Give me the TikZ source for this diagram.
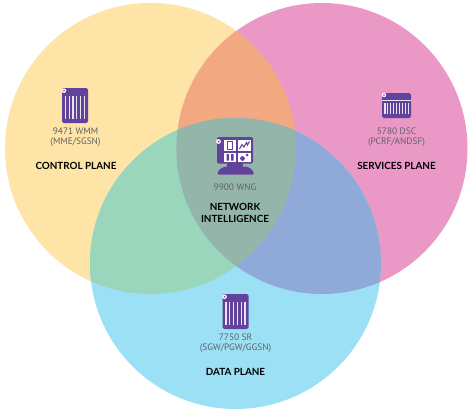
\documentclass[tikz,border=0pt]{standalone}
\usepackage{fontspec}
\setmainfont{Lato}
\newfontfamily\labfont{PT Sans}
\definecolor{cyel}{HTML}{FEE4A6}
\definecolor{cpnk}{HTML}{EA99C6}
\definecolor{cblu}{HTML}{9CE0F5}
\definecolor{cyp}{HTML}{F2A880}
\definecolor{cyb}{HTML}{9AD6BC}
\definecolor{cpb}{HTML}{8FA9D8}
\definecolor{cmid}{HTML}{94B5AA}
\definecolor{cicon}{HTML}{62439B}
\definecolor{ctxt}{HTML}{5E6264}
\tikzset{
  lab/.style={font=\labfont\fontsize{7}{7.5}\selectfont, text=ctxt, align=center, inner sep=0pt},
  plane/.style={font=\fontsize{7.4}{9}\selectfont\bfseries, text=black, align=center, inner sep=0pt},
  pics/tallicon/.style={code={
    \fill[cicon,rounded corners=1.2] (-13,-17.5) rectangle (13,17.5);
    \fill[white] (-11,-14.8) circle (2.3);
    \fill[cicon] (-11,-14.8) circle (0.9);
    \foreach \i in {-9.6,-5.8,-2,1.8,5.6,9.4}
      \fill[white!85!cicon] (\i-.6,-10) rectangle (\i+.6,13.5);
  }},
  pics/wideicon/.style={code={
    \fill[cicon,rounded corners=1.2] (-14.5,-12.5) rectangle (14.5,12.5);
    \fill[white] (-12.5,-10.5) circle (2.2);
    \fill[cicon] (-12.5,-10.5) circle (0.9);
    \fill[white!85!cicon] (-14.5,-5.8) rectangle (14.5,-5.1);
    \foreach \i in {-11.5,-8.6,-5.7,-2.8,0.1,3,5.9,8.8,11.7}
      \fill[white!85!cicon] (\i-.55,-3) rectangle (\i+.55,8);
  }}
}
\begin{document}
\begin{tikzpicture}[x=0.75pt,y=-0.75pt]
\useasboundingbox (0,0) rectangle (474,414);
\fill[white] (0,0) rectangle (474,414);
\def\cyelpath{(150.5,148.5) circle (145.5)}
\def\cpnkpath{(322,148.5) circle (145.5)}
\def\cblupath{(235.5,263.5) circle (145.5)}
\fill[cyel] \cyelpath;
\fill[cpnk] \cpnkpath;
\fill[cblu] \cblupath;
\begin{scope}\clip \cyelpath; \fill[cyp] \cpnkpath; \end{scope}
\begin{scope}\clip \cyelpath; \fill[cyb] \cblupath; \end{scope}
\begin{scope}\clip \cpnkpath; \fill[cpb] \cblupath; \end{scope}
\begin{scope}\clip \cyelpath; \clip \cpnkpath; \fill[cmid] \cblupath; \end{scope}

\pic at (75,105.5) {tallicon};
\node[lab] (wmm) at (75.5,137) {9471 WMM\\(MME/SGSN)};
\node[plane] (cp) at (76,165.5) {CONTROL PLANE};

\pic at (396.5,105.5) {wideicon};
\node[lab] (dsc) at (396.5,137) {5780 DSC\\(PCRF/ANDSF)};
\node[plane] (sp) at (396.5,165.5) {SERVICES PLANE};

\pic at (235.5,311.5) {tallicon};
\node[lab] (sr) at (235.5,343) {7750 SR\\(SGW/PGW/GGSN)};
\node[plane] (dp) at (235.5,372) {DATA PLANE};

% monitor icon
\fill[cicon,rounded corners=1] (217,137) rectangle (253,163.5);
\fill[white] (218.5,141.5) circle (2.4);
\fill[cicon] (218.5,141.5) circle (1);
\fill[white] (224,139.5) rectangle (236,150.5);
\fill[white] (238,139.5) rectangle (250.5,150.5);
\fill[white] (224,152.5) rectangle (236,162);
\fill[white] (238,152.5) rectangle (250.5,162);
\draw[cicon,line width=.7] (227.5,141.5) rectangle (232.5,149);
\draw[cicon,line width=.8] (239.5,149) -- (242,144.5) -- (244,147) -- (246.5,142.5) -- (247.5,145) -- (249.5,141.5);
\fill[cicon] (226.5,154) rectangle (229,160.5) (231,154) rectangle (233.5,160.5);
\fill[cicon] (242.5,158.5) circle (2.4) (247,155) circle (1.5);
\fill[cicon] (227,163) rectangle (243,168);
\fill[cicon,rounded corners=1.5] (217,174.5) .. controls (219,168.5) and (224,166.5) .. (229,166.5) -- (243,166.5) .. controls (248,166.5) and (252,168.5) .. (254.5,174.5) -- cycle;
\node[lab] (wng) at (235,187) {9900 WNG};
\node[plane] (ni) at (235,213) {NETWORK\\INTELLIGENCE};
\end{tikzpicture}
\end{document}
